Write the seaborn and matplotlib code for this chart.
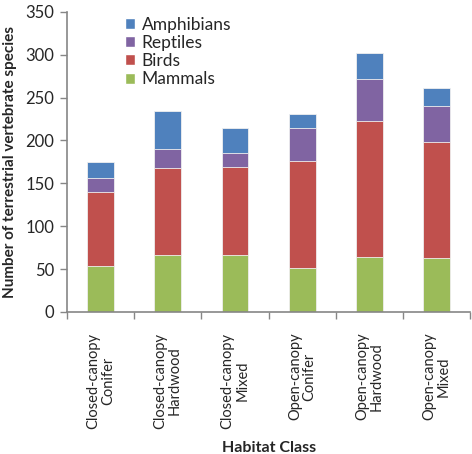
import matplotlib
matplotlib.use("Agg")
import matplotlib.pyplot as plt
import seaborn as sns
import numpy as np
import pandas as pd
from matplotlib.patches import Patch

categories = ["Closed-canopy\nConifer", "Closed-canopy\nHardwood", "Closed-canopy\nMixed",
              "Open-canopy\nConifer", "Open-canopy\nHardwood", "Open-canopy\nMixed"]
mammals = [54, 66, 66, 51, 64, 63]
birds = [86, 102, 103, 125, 159, 135]
reptiles = [16, 22, 16, 39, 49, 42]
amphibians = [19, 44, 29, 16, 30, 21]

series_names = ["Mammals", "Birds", "Reptiles", "Amphibians"]
series_vals = [mammals, birds, reptiles, amphibians]
colors = {"Mammals": "#9BBB59", "Birds": "#C0504D", "Reptiles": "#8064A2", "Amphibians": "#4F81BD"}

sns.set_style("white")
plt.rcParams['font.family'] = ['Lato', 'DejaVu Sans']

fig = plt.figure(figsize=(4.72, 4.54), dpi=100)
ax = fig.add_axes([0.142, 0.313, 0.854, 0.661])

cum = np.cumsum(np.array(series_vals), axis=0)
# draw from top layer down so lower layers overlay
for i in range(len(series_names) - 1, -1, -1):
    df = pd.DataFrame({"cat": categories, "val": cum[i]})
    sns.barplot(data=df, x="cat", y="val", color=colors[series_names[i]], width=0.4,
                saturation=1, ax=ax, edgecolor="#f0f0f0", linewidth=0.6)

ax.set_xlim(-0.5, 5.5)
ax.set_ylim(0, 350)
ax.set_yticks(np.arange(0, 351, 50))
ax.tick_params(axis="y", labelsize=12, length=5, width=1, color="#868686", direction="out", left=True, pad=4)
ax.set_xticks(range(len(categories)))
ax.set_xticklabels(categories, rotation=90, fontsize=10.5, linespacing=1.05)
ax.tick_params(axis="x", which="major", length=0, pad=15)
ax.set_xticks(np.arange(-0.5, 6.0, 1.0), minor=True)
ax.tick_params(axis="x", which="minor", length=5, width=1, color="#868686", direction="out", bottom=True)

for s in ["top", "right"]:
    ax.spines[s].set_visible(False)
for s in ["left", "bottom"]:
    ax.spines[s].set_color("#868686")
    ax.spines[s].set_linewidth(1.2)

ax.set_ylabel("Number of terrestrial vertebrate species", fontsize=11, fontweight="bold", labelpad=6)
ax.set_xlabel("Habitat Class", fontsize=11.5, fontweight="bold", labelpad=9)

handles = [Patch(facecolor=colors[n], label=n) for n in ["Amphibians", "Reptiles", "Birds", "Mammals"]]
ax.legend(handles=handles, loc="upper left", bbox_to_anchor=(0.105, 1.035), frameon=False,
          fontsize=12.5, handlelength=0.6, handleheight=0.6, handletextpad=0.35, labelspacing=0.12)

fig.savefig("out.png", dpi=100)
